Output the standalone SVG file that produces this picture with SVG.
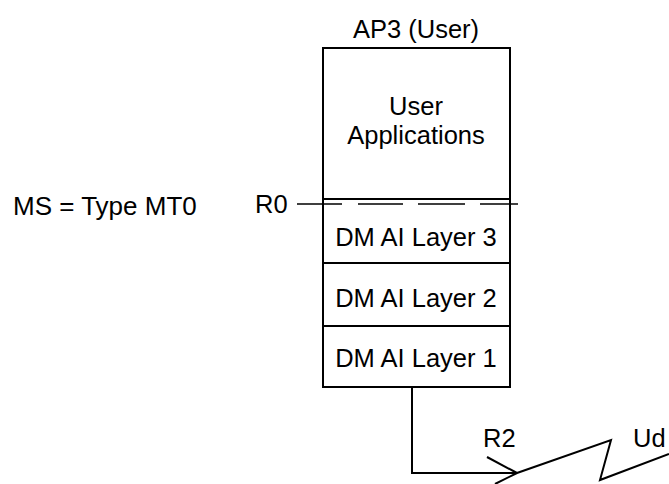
<svg xmlns="http://www.w3.org/2000/svg" width="669" height="484" viewBox="0 0 669 484">
<style>
text{font-family:"Liberation Sans",Arial,sans-serif;font-size:25.5px;fill:#000}
.c{text-anchor:middle}
.box{fill:#fff;stroke:#000;stroke-width:2}
.ln{fill:none;stroke:#000;stroke-width:2}
</style>
<rect width="669" height="484" fill="#fff"/>
<text x="13" y="215" style="font-size:26px">MS = Type MT0</text>
<g id="ap3">
<text class="c" x="416" y="38">AP3 (User)</text>
<rect class="box" x="323" y="48" width="187" height="151"/>
<text class="c" x="416" y="115">User</text>
<text class="c" x="416" y="144">Applications</text>
</g>
<g id="layer3">
<rect class="box" x="323" y="199" width="187" height="64"/>
<text class="c" x="416" y="246">DM AI Layer 3</text>
</g>
<g id="layer2">
<rect class="box" x="323" y="263" width="187" height="63"/>
<text class="c" x="416" y="307">DM AI Layer 2</text>
</g>
<g id="layer1">
<rect class="box" x="323" y="326" width="187" height="61"/>
<text class="c" x="416" y="367">DM AI Layer 1</text>
</g>
<g id="r0">
<text x="255" y="213">R0</text>
<line x1="297" y1="204" x2="518" y2="204" stroke="#000" stroke-width="1.5" stroke-dasharray="45 16 45 15 47 15"/>
</g>
<g id="connectors">
<polyline class="ln" points="412,387 412,473 517,473"/>
<line class="ln" x1="487" y1="457" x2="517" y2="473"/>
<polyline class="ln" points="495,484 517,473 611,440 600,480 669,454"/>
<text x="483" y="447">R2</text>
<text x="633" y="447">Ud</text>
</g>
</svg>
